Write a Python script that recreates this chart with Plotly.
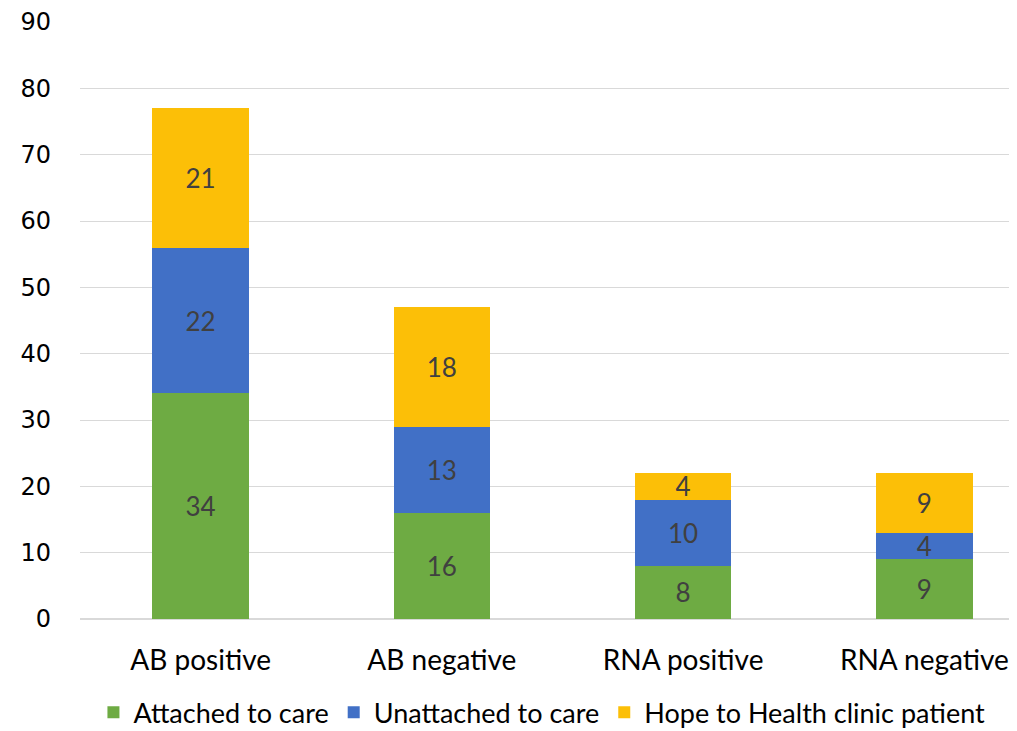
import plotly.graph_objects as go

categories = ["AB positive", "AB negative", "RNA positive", "RNA negative"]
attached = [34, 16, 8, 9]
unattached = [22, 13, 10, 4]
hope = [21, 18, 4, 9]
y_ticks = [0, 10, 20, 30, 40, 50, 60, 70, 80, 90]

series = [
    ("Attached to care", attached, "#6eab43"),
    ("Unattached to care", unattached, "#4170c6"),
    ("Hope to Health clinic patient", hope, "#fcbf07"),
]

fig = go.Figure()
for name, vals, col in series:
    fig.add_trace(go.Bar(
        x=categories, y=vals, name=name,
        marker=dict(color=col, line=dict(width=0)),
        text=[str(v) for v in vals], textposition="inside",
        insidetextanchor="middle", textangle=0, constraintext="none",
        textfont=dict(size=26, color="#404040", family="Lato"),
        width=0.40,
    ))

fig.update_layout(
    barmode="stack",
    width=1009, height=723,
    margin=dict(l=72, r=0, t=14, b=112, autoexpand=False),
    plot_bgcolor="white", paper_bgcolor="white",
    showlegend=True,
    legend=dict(orientation="h", x=0.493, xanchor="center", y=-0.157, yanchor="middle",
                font=dict(size=27, color="#000000", family="Lato"),
                itemwidth=30, traceorder="normal"),
)
fig.update_yaxes(range=[0, 90], tickvals=y_ticks, showgrid=True, gridcolor="#d9d9d9", gridwidth=1,
                 zeroline=True, zerolinecolor="#d9d9d9", showline=False, automargin=False,
                 tickfont=dict(size=24, color="#000000", family="DejaVu Sans"),
                 ticks="", ticklabelstandoff=28)
fig.update_xaxes(range=[-0.5, 3.384], showline=False, ticks="", automargin=False,
                 tickfont=dict(size=28, color="#000000", family="Lato"),
                 ticklabelstandoff=22)

fig.write_html("out.html")
